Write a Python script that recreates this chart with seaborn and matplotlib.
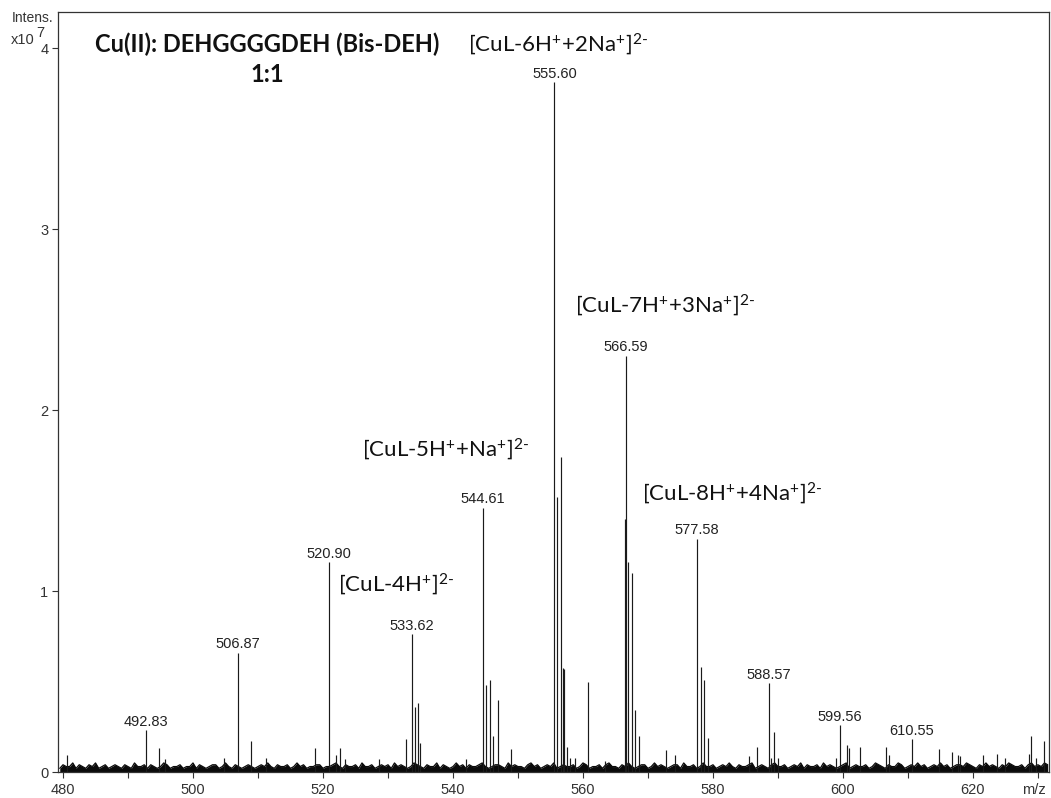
import numpy as np
import pandas as pd
import matplotlib
matplotlib.use("Agg")
import matplotlib.pyplot as plt
import seaborn as sns

# ---------------- data (m/z, intensity in units of 1e7) ----------------
peak_mz = [480.6, 492.83, 494.78, 495.65, 504.78, 506.87, 508.9, 511.2, 518.73,
           520.90, 521.95, 522.65, 523.35, 528.65, 532.74, 533.62, 534.13, 534.64,
           534.87, 542.0, 544.61, 545.1, 545.64, 546.15, 546.9, 549.0, 555.60,
           556.05, 556.6, 557.0, 557.1, 557.6, 558.05, 558.7, 560.8, 563.4, 566.4,
           566.59, 566.9, 567.57, 568.03, 568.59, 572.8, 574.1, 577.58, 578.1,
           578.61, 579.22, 585.59, 586.77, 588.57, 588.97, 589.44, 589.95, 598.86,
           599.56, 600.56, 600.86, 602.64, 606.56, 607.11, 610.55, 614.77, 616.77,
           617.67, 617.97, 621.57, 623.67, 624.87, 628.57, 628.87, 629.67, 630.87]
peak_int = [0.094, 0.23, 0.13, 0.07, 0.08, 0.66, 0.17, 0.08, 0.13,
            1.16, 0.094, 0.13, 0.07, 0.07, 0.18, 0.76, 0.36, 0.38,
            0.16, 0.07, 1.46, 0.48, 0.51, 0.20, 0.40, 0.125, 3.81,
            1.52, 1.74, 0.575, 0.57, 0.14, 0.08, 0.08, 0.50, 0.06, 1.40,
            2.30, 1.16, 1.10, 0.34, 0.20, 0.12, 0.094, 1.29, 0.58,
            0.51, 0.19, 0.088, 0.14, 0.49, 0.08, 0.22, 0.08, 0.08,
            0.26, 0.15, 0.134, 0.14, 0.14, 0.094, 0.18, 0.127, 0.11,
            0.094, 0.09, 0.094, 0.10, 0.075, 0.10, 0.20, 0.08, 0.17]

label_mz = [492.83, 506.87, 520.90, 533.62, 544.61, 555.60, 566.59,
            577.58, 588.57, 599.56, 610.55]
label_int = [0.23, 0.66, 1.16, 0.76, 1.46, 3.81, 2.30, 1.29, 0.49, 0.26, 0.18]

# baseline noise heights (x0.01 e7), sampled every 0.5 m/z from 479.5
noise_start = 479.5
noise_step = 0.5
noise_pct = [2,4,3,3,5,2,4,3,2,4,3,5,2,3,4,2,3,4,3,2,
             4,3,2,5,3,3,4,2,4,3,2,3,5,4,2,3,3,4,2,3,
             3,5,2,4,3,2,3,4,4,2,3,5,3,2,4,3,2,3,4,3,
             2,3,4,3,5,3,2,4,3,3,4,2,3,5,3,4,2,3,3,4,
             4,2,3,3,4,5,3,2,4,3,3,4,2,5,3,3,4,2,3,4,
             3,4,2,5,3,4,3,2,3,5,4,3,2,4,3,3,5,2,4,3,
             2,3,5,3,4,2,4,3,3,4,5,3,2,3,4,4,3,2,5,3,
             4,3,3,2,4,5,3,4,2,3,4,3,5,2,3,4,3,3,4,2,
             3,5,4,2,3,3,4,2,4,5,3,3,2,4,3,5,3,2,3,4,
             4,2,3,5,3,4,3,2,3,4,4,2,5,3,3,4,2,3,5,3,
             3,4,2,3,4,3,5,3,2,4,3,3,4,5,2,3,4,3,2,4,
             5,3,3,4,2,3,4,3,5,2,4,3,3,4,2,5,3,4,3,2,
             3,4,5,2,3,4,3,3,4,2,3,5,4,3,2,4,3,3,5,4,
             2,3,4,3,5,3,4,2,3,4,3,5,3,4,2,3,4,4,3,5,
             4,3,2,4,3,5,3,4,3,2,4,3,5,4,3,3,4,2,4,5,
             3,4,3,5,4]

ion_labels = [r"[CuL-6H$^{\text{+}}$+2Na$^{\text{+}}$]$^{\text{2-}}$",
              r"[CuL-7H$^{\text{+}}$+3Na$^{\text{+}}$]$^{\text{2-}}$",
              r"[CuL-5H$^{\text{+}}$+Na$^{\text{+}}$]$^{\text{2-}}$",
              r"[CuL-8H$^{\text{+}}$+4Na$^{\text{+}}$]$^{\text{2-}}$",
              r"[CuL-4H$^{\text{+}}$]$^{\text{2-}}$"]
ion_pos = [(542.3, 4.02), (558.8, 2.58), (526.0, 1.785), (569.1, 1.54), (522.3, 1.04)]

title_lines = ["Cu(II): DEHGGGGDEH (Bis-DEH)", "1:1"]
x_ticks = [480, 500, 520, 540, 560, 580, 600, 620]
y_ticks = [0, 1, 2, 3, 4]

# ---------------- style ----------------
sns.set_style("ticks")
plt.rcParams['font.family'] = ['Liberation Sans', 'DejaVu Sans']
plt.rcParams['mathtext.fontset'] = 'custom'
plt.rcParams['mathtext.rm'] = 'Lato'
plt.rcParams['mathtext.it'] = 'Lato:italic'
plt.rcParams['mathtext.bf'] = 'Lato:bold'

W, H = 1051, 798
fig = plt.figure(figsize=(W / 100, H / 100), dpi=100)
fig.patch.set_facecolor('white')
ax = fig.add_axes([58 / W, 1 - 772 / H, (1049 - 58) / W, (772 - 12) / H])

noise_mz = noise_start + noise_step * np.arange(len(noise_pct))
noise_df = pd.DataFrame({"mz": noise_mz, "intensity": np.array(noise_pct) / 100.0})
ax.fill_between(noise_df["mz"], 0, noise_df["intensity"], color='#0a0a0a', lw=0)
sns.lineplot(data=noise_df, x="mz", y="intensity", ax=ax, color='#0a0a0a', lw=0.9)

peaks_df = pd.DataFrame({"mz": peak_mz, "intensity": peak_int})
ax.vlines(peaks_df["mz"], 0, peaks_df["intensity"], color='#1a1a1a', lw=0.85)

for mz, it in zip(label_mz, label_int):
    ax.annotate(f"{mz:.2f}", xy=(mz, it), xytext=(0, 1), textcoords='offset points',
                ha='center', va='bottom', fontsize=10.5, color='#222222')

for txt, (x, y) in zip(ion_labels, ion_pos):
    ax.text(x, y, txt, ha='left', va='center', fontsize=16, color='#111111',
            family='Lato')

ax.text(511.4, 4.02, title_lines[0], ha='center', va='center', fontsize=17,
        fontweight='bold', family='Lato', color='#111111')
ax.text(511.4, 3.855, title_lines[1], ha='center', va='center', fontsize=17,
        fontweight='bold', family='Lato', color='#111111')

ax.set_xlim(479.23, 631.7)
ax.set_ylim(0, 4.199)
ax.set_xticks(np.arange(480, 631, 10))
ax.set_xticklabels([str(t) if t in x_ticks else "" for t in np.arange(480, 631, 10)])
ax.set_yticks(y_ticks)
ax.set_yticklabels([str(t) for t in y_ticks])
ax.tick_params(axis='both', direction='out', length=4, width=0.8, color='#333333',
               labelsize=10.5, labelcolor='#333333', pad=3)
ax.tick_params(axis='x', pad=4)
ax.set_xlabel("")
ax.set_ylabel("")
for s in ax.spines.values():
    s.set_visible(True)
    s.set_color('#333333')
    s.set_linewidth(0.9)

fig.text(12 / W, 1 - 18 / H, "Intens.", ha='left', va='center', fontsize=10, color='#333333')
fig.text(35 / W, 1 - 40.5 / H, "x10", ha='right', va='center', fontsize=10.5, color='#333333')
fig.text(40.5 / W, 1 - 33 / H, "7", ha='center', va='center', fontsize=10.5, color='#333333')
fig.text(1034 / W, 1 - 790 / H, "m/z", ha='center', va='center', fontsize=10.5, color='#333333')

fig.savefig("out.png", dpi=100, facecolor='white')
